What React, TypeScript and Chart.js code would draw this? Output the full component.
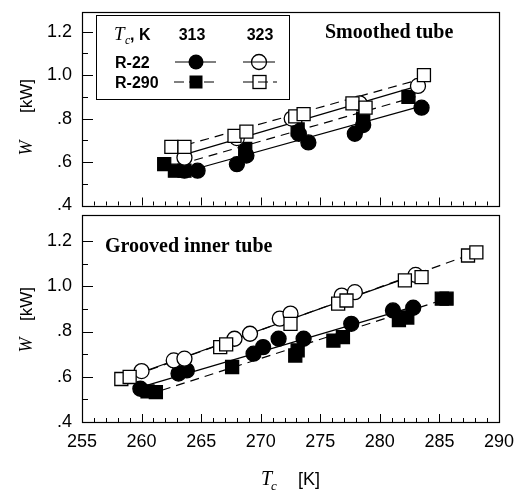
import React, { useEffect, useRef } from 'react';
import { Chart, registerables } from 'chart.js';

Chart.register(...registerables);

// ---------- axes ----------
const X_MIN = 255;
const X_MAX = 290;
const xTickLabels = [255, 260, 265, 270, 275, 280, 285, 290];
const yTickValues = [0.4, 0.6, 0.8, 1.0, 1.2];
const topYMax = 1.29;
const bottomYMax = 1.315;

// ---------- Smoothed tube (top panel) ----------
const smoothR22_313_T = [263.6, 264.7, 268.0, 268.8, 273.2, 274.0, 277.9, 278.6, 283.5];
const smoothR22_313_W = [0.56, 0.56, 0.59, 0.63, 0.73, 0.69, 0.73, 0.77, 0.85];
const smoothR290_313_T = [261.9, 262.8, 263.6, 268.7, 273.1, 278.6, 282.4];
const smoothR290_313_W = [0.59, 0.56, 0.56, 0.66, 0.75, 0.80, 0.90];
const smoothR22_323_T = [263.6, 268.0, 272.6, 278.3, 283.2];
const smoothR22_323_W = [0.62, 0.71, 0.80, 0.87, 0.95];
const smoothR290_323_T = [262.5, 263.6, 267.8, 268.8, 272.9, 273.6, 277.7, 278.8, 283.7];
const smoothR290_323_W = [0.67, 0.67, 0.72, 0.74, 0.81, 0.82, 0.87, 0.85, 1.0];

// fitted lines (end points)
const smoothLineR22_313_T = [263, 284];
const smoothLineR22_313_W = [0.545, 0.865];
const smoothLineR290_313_T = [262, 283];
const smoothLineR290_313_W = [0.57, 0.9];
const smoothLineR22_323_T = [263, 283.5];
const smoothLineR22_323_W = [0.625, 0.955];
const smoothLineR290_323_T = [262.5, 284];
const smoothLineR290_323_W = [0.66, 0.99];

// ---------- Grooved inner tube (bottom panel) ----------
const grooveR22_313_T = [259.9, 263.1, 263.8, 269.4, 270.2, 271.5, 273.6, 277.6, 281.1, 282.8];
const grooveR22_313_W = [0.547, 0.614, 0.628, 0.702, 0.731, 0.768, 0.768, 0.834, 0.893, 0.905];
const grooveR290_313_T = [260.5, 261.2, 267.6, 272.9, 273.1, 276.1, 276.9, 281.6, 282.3, 285.2, 285.6];
const grooveR290_313_W = [0.535, 0.532, 0.643, 0.694, 0.717, 0.76, 0.775, 0.85, 0.862, 0.945, 0.945];
const grooveR22_323_T = [260.0, 262.7, 263.6, 267.8, 269.1, 271.6, 272.5, 276.8, 277.9, 283.0];
const grooveR22_323_W = [0.625, 0.672, 0.68, 0.768, 0.79, 0.857, 0.879, 0.959, 0.974, 1.05];
const grooveR290_323_T = [258.3, 259.0, 266.6, 267.1, 272.5, 276.5, 277.2, 282.1, 283.5, 287.4, 288.1];
const grooveR290_323_W = [0.59, 0.599, 0.731, 0.743, 0.834, 0.923, 0.937, 1.026, 1.04, 1.136, 1.15];

const grooveLineR22_313_T = [260, 283];
const grooveLineR22_313_W = [0.555, 0.912];
const grooveLineR290_313_T = [260.5, 285.6];
const grooveLineR290_313_W = [0.52, 0.945];
const grooveLineR22_323_T = [260, 283.5];
const grooveLineR22_323_W = [0.62, 1.06];
const grooveLineR290_323_T = [258.3, 288.1];
const grooveLineR290_323_W = [0.585, 1.15];

// ---------- texts ----------
const topPanelTitle = 'Smoothed tube';
const bottomPanelTitle = 'Grooved inner tube';
const legendTemps = ['313', '323'];
const legendFluids = ['R-22', 'R-290'];

const SANS = '"Liberation Sans", Arial, sans-serif';
const SERIF = '"Liberation Serif", "Times New Roman", serif';
const DASH = [9, 6];

function pts(t: number[], w: number[]) {
  return t.map((x, i) => ({ x, y: w[i] }));
}

function marker(t: number[], w: number[], style: 'circle' | 'rect', filled: boolean, order: number) {
  return {
    data: pts(t, w),
    showLine: false,
    pointStyle: style,
    pointRadius: style === 'circle' ? 7.5 : 9.2,
    pointBackgroundColor: filled ? '#000' : '#fff',
    pointBorderColor: '#000',
    pointBorderWidth: 1.3,
    order,
  };
}

function line(t: number[], w: number[], dashed: boolean) {
  return {
    data: pts(t, w),
    showLine: true,
    pointRadius: 0,
    borderColor: '#000',
    borderWidth: 1.2,
    borderDash: dashed ? DASH : [],
    fill: false,
    order: 10,
  };
}

function topDatasets() {
  return [
    line(smoothLineR22_313_T, smoothLineR22_313_W, false),
    line(smoothLineR290_313_T, smoothLineR290_313_W, true),
    line(smoothLineR22_323_T, smoothLineR22_323_W, false),
    line(smoothLineR290_323_T, smoothLineR290_323_W, true),
    marker(smoothR22_313_T, smoothR22_313_W, 'circle', true, 4),
    marker(smoothR290_313_T, smoothR290_313_W, 'rect', true, 3),
    marker(smoothR22_323_T, smoothR22_323_W, 'circle', false, 2),
    marker(smoothR290_323_T, smoothR290_323_W, 'rect', false, 1),
  ];
}

function bottomDatasets() {
  return [
    line(grooveLineR22_313_T, grooveLineR22_313_W, false),
    line(grooveLineR290_313_T, grooveLineR290_313_W, true),
    line(grooveLineR22_323_T, grooveLineR22_323_W, false),
    line(grooveLineR290_323_T, grooveLineR290_323_W, true),
    marker(grooveR22_313_T, grooveR22_313_W, 'circle', true, 4),
    marker(grooveR290_313_T, grooveR290_313_W, 'rect', true, 3),
    marker(grooveR22_323_T, grooveR22_323_W, 'circle', false, 2),
    marker(grooveR290_323_T, grooveR290_323_W, 'rect', false, 1),
  ];
}

function drawYTitle(ctx: CanvasRenderingContext2D, x: number, kwY: number, wY: number) {
  ctx.save();
  ctx.fillStyle = '#000';
  ctx.textAlign = 'center';
  ctx.textBaseline = 'middle';
  ctx.translate(x, kwY);
  ctx.rotate(-Math.PI / 2);
  ctx.font = `17px ${SANS}`;
  ctx.fillText('[kW]', 0, 0);
  ctx.restore();
  ctx.save();
  ctx.fillStyle = '#000';
  ctx.textAlign = 'center';
  ctx.textBaseline = 'middle';
  ctx.translate(x, wY);
  ctx.rotate(-Math.PI / 2);
  ctx.font = `italic 18px ${SERIF}`;
  ctx.fillText('W', 0, 0);
  ctx.restore();
}

function drawFrameAndTicks(chart: any) {
  const { ctx, chartArea: a, scales } = chart;
  const xs = scales.x;
  const ys = scales.y;
  ctx.save();
  ctx.strokeStyle = '#000';
  ctx.lineWidth = 1.2;
  ctx.strokeRect(Math.round(a.left) + 0.5, Math.round(a.top) + 0.5, Math.round(a.right - a.left), Math.round(a.bottom - a.top));
  ctx.lineWidth = 1;
  ctx.beginPath();
  for (let v = X_MIN; v <= X_MAX; v++) {
    const px = Math.round(xs.getPixelForValue(v)) + 0.5;
    const len = v % 5 === 0 ? 8 : 4;
    ctx.moveTo(px, a.bottom);
    ctx.lineTo(px, a.bottom - len);
  }
  for (let k = 4; k <= 12; k++) {
    const py = Math.round(ys.getPixelForValue(k / 10)) + 0.5;
    const len = k % 2 === 0 ? 11 : 6;
    ctx.moveTo(a.left, py);
    ctx.lineTo(a.left + len, py);
  }
  ctx.stroke();
  ctx.restore();
}

const topPlugin = {
  id: 'topDecor',
  afterDraw(chart: any) {
    const ctx: CanvasRenderingContext2D = chart.ctx;
    drawFrameAndTicks(chart);
    ctx.save();
    ctx.fillStyle = '#000';
    ctx.font = `bold 20px ${SERIF}`;
    ctx.textBaseline = 'alphabetic';
    ctx.textAlign = 'left';
    ctx.fillText(topPanelTitle, 325, 38);
    // legend box
    ctx.strokeStyle = '#000';
    ctx.lineWidth = 1;
    ctx.fillStyle = '#fff';
    ctx.fillRect(96.5, 15.5, 193, 84);
    ctx.strokeRect(96.5, 15.5, 193, 84);
    ctx.fillStyle = '#000';
    ctx.font = `italic 19px ${SERIF}`;
    ctx.fillText('T', 114, 40);
    ctx.font = `italic 12px ${SERIF}`;
    ctx.fillText('c', 125, 44);
    ctx.font = `bold 16px ${SANS}`;
    ctx.fillText(', K', 130, 40);
    ctx.textAlign = 'center';
    ctx.fillText(legendTemps[0], 192, 40);
    ctx.fillText(legendTemps[1], 260, 40);
    ctx.textAlign = 'left';
    ctx.fillText(legendFluids[0], 115, 68);
    ctx.fillText(legendFluids[1], 115, 88);
    const y1 = 62, y2 = 82;
    ctx.lineWidth = 1.2;
    ctx.beginPath();
    ctx.moveTo(175, y1); ctx.lineTo(216, y1);
    ctx.moveTo(243, y1); ctx.lineTo(275, y1);
    ctx.stroke();
    ctx.setLineDash([10, 5]);
    ctx.beginPath();
    ctx.moveTo(174, y2); ctx.lineTo(214, y2);
    ctx.moveTo(243, y2); ctx.lineTo(277, y2);
    ctx.stroke();
    ctx.setLineDash([]);
    ctx.beginPath();
    ctx.arc(196, y1, 7.5, 0, Math.PI * 2);
    ctx.fillStyle = '#000';
    ctx.fill();
    ctx.beginPath();
    ctx.arc(259, y1, 7.5, 0, Math.PI * 2);
    ctx.lineWidth = 1.3;
    ctx.stroke();
    ctx.fillRect(189.5, y2 - 6.5, 13, 13);
    ctx.strokeRect(253, y2 - 6.5, 13, 13);
    ctx.restore();
    drawYTitle(ctx, 27, 96, 148);
  },
};

const bottomPlugin = {
  id: 'bottomDecor',
  afterDraw(chart: any) {
    const ctx: CanvasRenderingContext2D = chart.ctx;
    drawFrameAndTicks(chart);
    ctx.save();
    ctx.fillStyle = '#000';
    ctx.font = `bold 20px ${SERIF}`;
    ctx.textAlign = 'left';
    ctx.textBaseline = 'alphabetic';
    ctx.fillText(bottomPanelTitle, 105, 52);
    ctx.font = `italic 20px ${SERIF}`;
    ctx.fillText('T', 261, 285);
    ctx.font = `italic 13px ${SERIF}`;
    ctx.fillText('c', 271, 290);
    ctx.font = `18px ${SANS}`;
    ctx.fillText('[K]', 298, 285);
    ctx.restore();
    drawYTitle(ctx, 27, 104, 145);
  },
};

function makeConfig(isTop: boolean): any {
  const tickFont = { family: SANS, size: 18 };
  return {
    type: 'scatter',
    data: { datasets: isTop ? topDatasets() : bottomDatasets() },
    options: {
      responsive: false,
      animation: false,
      events: [],
      layout: {
        padding: isTop
          ? { top: 12, bottom: 1, left: 0, right: 15 }
          : { top: 15, bottom: 0, left: 0, right: 15 },
      },
      plugins: { legend: { display: false }, tooltip: { enabled: false } },
      scales: {
        x: {
          type: 'linear',
          min: X_MIN,
          max: X_MAX,
          display: !isTop,
          grid: { display: false, drawTicks: false },
          border: { display: false },
          ticks: { font: tickFont, color: '#000', padding: 9, maxRotation: 0, autoSkip: false },
          afterBuildTicks: (s: any) => {
            s.ticks = xTickLabels.map((v) => ({ value: v }));
          },
          afterFit: (s: any) => {
            s.height = isTop ? 0 : 70;
            s.paddingLeft = 0;
            s.paddingRight = 0;
          },
        },
        y: {
          type: 'linear',
          min: 0.4,
          max: isTop ? topYMax : bottomYMax,
          grid: { display: false, drawTicks: false },
          border: { display: false },
          ticks: {
            font: tickFont,
            color: '#000',
            padding: 10,
            callback: (v: any) => {
              const s = Number(v).toFixed(1);
              return Number(v) < 1 ? s.replace(/^0/, '') : s;
            },
          },
          afterBuildTicks: (s: any) => {
            s.ticks = yTickValues.map((v) => ({ value: v }));
          },
          afterFit: (s: any) => {
            s.width = 82;
            s.paddingTop = 0;
            s.paddingBottom = 0;
          },
        },
      },
    },
    plugins: [isTop ? topPlugin : bottomPlugin],
  };
}

export default function App() {
  const topRef = useRef<HTMLCanvasElement>(null);
  const bottomRef = useRef<HTMLCanvasElement>(null);

  useEffect(() => {
    const c1 = new Chart(topRef.current as HTMLCanvasElement, makeConfig(true));
    const c2 = new Chart(bottomRef.current as HTMLCanvasElement, makeConfig(false));
    return () => {
      c1.destroy();
      c2.destroy();
    };
  }, []);

  return (
    <div style={{ position: 'absolute', left: 0, top: 0, width: 514, height: 492, background: '#fff' }}>
      <canvas
        ref={topRef}
        width={514}
        height={216}
        style={{ position: 'absolute', left: 0, top: 0, width: 514, height: 216 }}
      />
      <canvas
        ref={bottomRef}
        width={514}
        height={292}
        style={{ position: 'absolute', left: 0, top: 200, width: 514, height: 292 }}
      />
    </div>
  );
}
